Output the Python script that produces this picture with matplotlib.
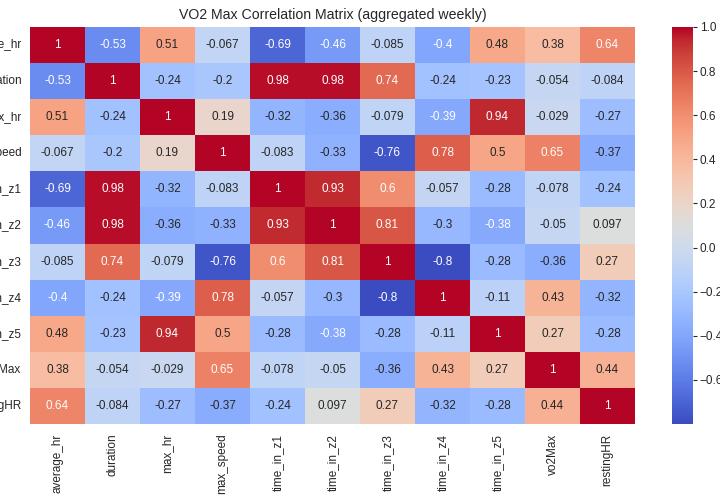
import numpy as np
import pandas as pd
import matplotlib
matplotlib.use('Agg')
import matplotlib.pyplot as plt
import seaborn as sns

labels = ['average_hr', 'duration', 'max_hr', 'max_speed', 'time_in_z1', 'time_in_z2',
          'time_in_z3', 'time_in_z4', 'time_in_z5', 'vo2Max', 'restingHR']

average_hr = [1, -0.53, 0.51, -0.067, -0.69, -0.46, -0.085, -0.4, 0.48, 0.38, 0.64]
duration = [-0.53, 1, -0.24, -0.2, 0.98, 0.98, 0.74, -0.24, -0.23, -0.054, -0.084]
max_hr = [0.51, -0.24, 1, 0.19, -0.32, -0.36, -0.079, -0.39, 0.94, -0.029, -0.27]
max_speed = [-0.067, -0.2, 0.19, 1, -0.083, -0.33, -0.76, 0.78, 0.5, 0.65, -0.37]
time_in_z1 = [-0.69, 0.98, -0.32, -0.083, 1, 0.93, 0.6, -0.057, -0.28, -0.078, -0.24]
time_in_z2 = [-0.46, 0.98, -0.36, -0.33, 0.93, 1, 0.81, -0.3, -0.38, -0.05, 0.097]
time_in_z3 = [-0.085, 0.74, -0.079, -0.76, 0.6, 0.81, 1, -0.8, -0.28, -0.36, 0.27]
time_in_z4 = [-0.4, -0.24, -0.39, 0.78, -0.057, -0.3, -0.8, 1, -0.11, 0.43, -0.32]
time_in_z5 = [0.48, -0.23, 0.94, 0.5, -0.28, -0.38, -0.28, -0.11, 1, 0.27, -0.28]
vo2Max = [0.38, -0.054, -0.029, 0.65, -0.078, -0.05, -0.36, 0.43, 0.27, 1, 0.44]
restingHR = [0.64, -0.084, -0.27, -0.37, -0.24, 0.097, 0.27, -0.32, -0.28, 0.44, 1]

cbar_ticks = [-0.6, -0.4, -0.2, 0.0, 0.2, 0.4, 0.6, 0.8, 1.0]

rows = [average_hr, duration, max_hr, max_speed, time_in_z1, time_in_z2,
        time_in_z3, time_in_z4, time_in_z5, vo2Max, restingHR]
corr = pd.DataFrame(rows, index=labels, columns=labels)

sns.set_theme(style='white')
plt.rcParams['font.family'] = ['Liberation Sans', 'DejaVu Sans']

fig = plt.figure(figsize=(7.2, 5), dpi=100)
ax = fig.add_axes([30 / 720, 76 / 500, 605 / 720, 397 / 500])
cax = fig.add_axes([672 / 720, 76 / 500, 21 / 720, 397 / 500])

sns.heatmap(corr, annot=True, cmap='coolwarm', ax=ax, cbar_ax=cax,
            annot_kws={'fontsize': 8.5})

# text colour on the cells: white on the darker ones
for t in ax.texts:
    v = float(t.get_text())
    t.set_color('white' if (v <= -0.38 or v >= 0.6) else '#262626')

ax.set_title('VO2 Max Correlation Matrix (aggregated weekly)', fontsize=10.2, color='#262626')
ax.tick_params(axis='x', labelsize=8.5, rotation=90, length=0, pad=7, colors='#262626')
ax.tick_params(axis='y', labelsize=8.5, rotation=0, length=0, pad=6, colors='#262626')
cax.set_yticks(cbar_ticks)
cax.tick_params(labelsize=8.5, length=3, width=0.8, pad=2, left=False, right=True, colors='#262626')

fig.savefig('out.png', dpi=100)
